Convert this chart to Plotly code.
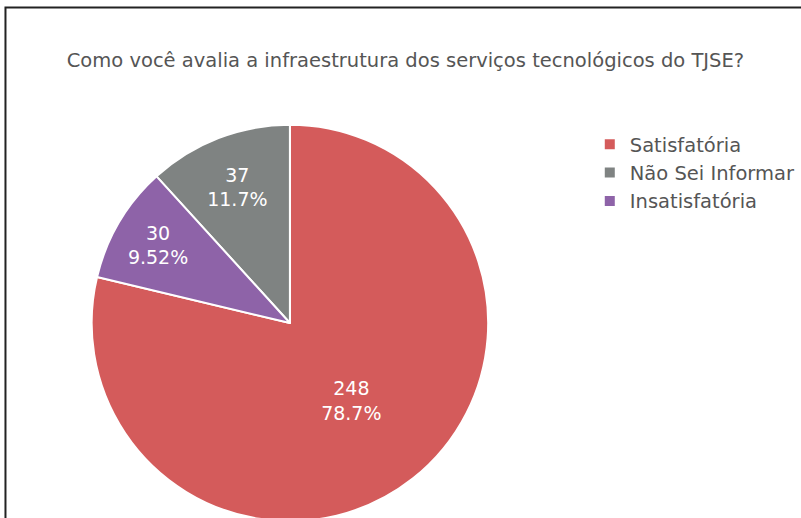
import plotly.graph_objects as go

labels = ["Satisfatória", "Não Sei Informar", "Insatisfatória"]
values = [248, 37, 30]
colors = ["#d45b5b", "#7f8382", "#8e63a8"]
title = "Como você avalia a infraestrutura dos serviços tecnológicos do TJSE?"

W, H = 801, 540

fig = go.Figure(go.Pie(
    labels=labels, values=values, sort=True, direction="counterclockwise",
    rotation=0,
    marker=dict(colors=colors, line=dict(color="white", width=2)),
    textinfo="value+percent", textposition="inside",
    insidetextfont=dict(color="white", size=19, family="DejaVu Sans"),
    domain=dict(x=[92 / W, 490 / W], y=[(H - 522) / H, (H - 124) / H]),
))

fig.update_layout(
    width=W, height=H,
    margin=dict(l=0, r=0, t=0, b=0),
    paper_bgcolor="white",
    font=dict(family="DejaVu Sans", color="#555555"),
    title=dict(text=title, x=67 / W, xanchor="left", xref="paper",
               y=1 - 60 / H, yanchor="middle", yref="paper",
               font=dict(size=19.5, color="#555555", family="DejaVu Sans")),
    legend=dict(x=592 / W, xanchor="left", y=1 - 125 / H, yanchor="top",
                font=dict(size=19.5, color="#555555", family="DejaVu Sans")),
    shapes=[dict(type="rect", xref="paper", yref="paper",
                 x0=5.5 / W, x1=1.2, y0=-0.2, y1=1 - 7.5 / H,
                 line=dict(color="#222222", width=2))],
)

fig.write_html("out.html", config={"displayModeBar": False},
               post_script="document.body.style.overflow='hidden';document.body.style.margin='0';")
